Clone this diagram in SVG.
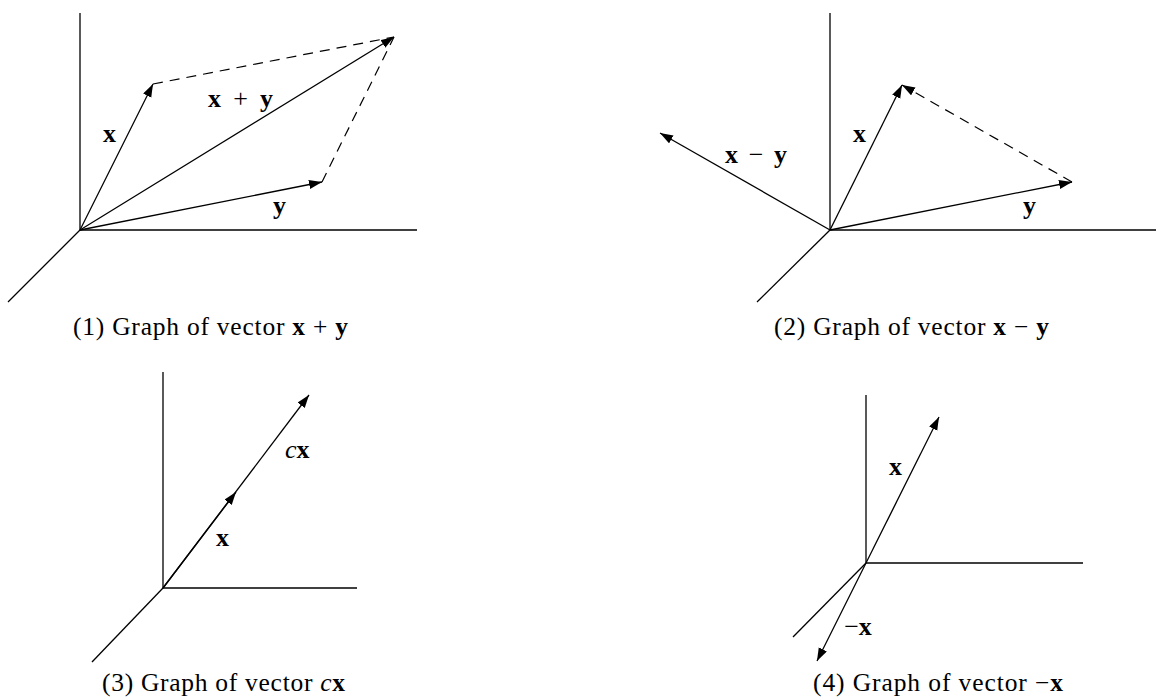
<svg xmlns="http://www.w3.org/2000/svg" width="1156" height="698" viewBox="0 0 1156 698">
<style>
.ax{stroke:#000;stroke-width:1.3;fill:none}
.v{stroke:#000;stroke-width:1.3;fill:none;marker-end:url(#ah)}
.d{stroke:#000;stroke-width:1.2;fill:none;stroke-dasharray:10 7}
.lab{font-family:"Liberation Serif","DejaVu Serif",serif;font-size:26px;fill:#000}
.b{font-weight:bold}
.i{font-style:italic}
.cap{font-family:"Liberation Serif","DejaVu Serif",serif;font-size:25.5px;fill:#000}
</style>
<defs>
<marker id="ah" markerUnits="userSpaceOnUse" markerWidth="14" markerHeight="10" refX="13" refY="4.5" orient="auto">
<path d="M0,0 L13,4.5 L0,9 z" fill="#000"/>
</marker>
</defs>
<rect width="1156" height="698" fill="#fff"/>

<g id="panel1">
<g id="axes1">
<line class="ax" x1="80" y1="13" x2="80" y2="230"/>
<line class="ax" x1="80" y1="230" x2="417" y2="230"/>
<line class="ax" x1="80" y1="230" x2="8" y2="302"/>
</g>
<g id="connectors1">
<line class="v" x1="80" y1="230" x2="153" y2="84"/>
<line class="v" x1="80" y1="230" x2="322" y2="182"/>
<line class="v" x1="80" y1="230" x2="394" y2="37"/>
<line class="d" x1="153" y1="84" x2="394" y2="37"/>
<line class="d" x1="322" y1="182" x2="394" y2="37"/>
</g>
<text class="lab b" x="109.5" y="142" text-anchor="middle">x</text>
<text class="lab" x="208" y="107" textLength="65" lengthAdjust="spacing"><tspan class="b">x</tspan> + <tspan class="b">y</tspan></text>
<text class="lab b" x="279.5" y="214" text-anchor="middle">y</text>
<text class="cap" x="73" y="335" textLength="275" lengthAdjust="spacing">(1) Graph of vector <tspan class="b">x</tspan> + <tspan class="b">y</tspan></text>
</g>

<g id="panel2">
<g id="axes2">
<line class="ax" x1="830" y1="13" x2="830" y2="230"/>
<line class="ax" x1="830" y1="230" x2="1156" y2="230"/>
<line class="ax" x1="830" y1="230" x2="757" y2="302"/>
</g>
<g id="connectors2">
<line class="v" x1="830" y1="230" x2="902" y2="85"/>
<line class="v" x1="830" y1="230" x2="1072" y2="182"/>
<line class="v" x1="830" y1="230" x2="660" y2="133"/>
<line class="d" x1="1072" y1="182" x2="902" y2="85" style="marker-end:url(#ah)"/>
</g>
<text class="lab" x="725" y="163" textLength="62" lengthAdjust="spacing"><tspan class="b">x</tspan> − <tspan class="b">y</tspan></text>
<text class="lab b" x="859.5" y="142" text-anchor="middle">x</text>
<text class="lab b" x="1029.5" y="214" text-anchor="middle">y</text>
<text class="cap" x="774" y="335" textLength="275" lengthAdjust="spacing">(2) Graph of vector <tspan class="b">x</tspan> − <tspan class="b">y</tspan></text>
</g>

<g id="panel3">
<g id="axes3">
<line class="ax" x1="163" y1="372" x2="163" y2="588"/>
<line class="ax" x1="163" y1="588" x2="357" y2="588"/>
<line class="ax" x1="163" y1="588" x2="92" y2="662"/>
</g>
<g id="connectors3">
<line class="v" x1="163" y1="588" x2="309" y2="395"/>
<line class="v" x1="163" y1="588" x2="236" y2="492"/>
</g>
<text class="lab" x="285" y="458"><tspan class="i">c</tspan><tspan class="b">x</tspan></text>
<text class="lab b" x="222.5" y="546" text-anchor="middle">x</text>
<text class="cap" x="102" y="691" textLength="243" lengthAdjust="spacing">(3) Graph of vector <tspan class="i">c</tspan><tspan class="b">x</tspan></text>
</g>

<g id="panel4">
<g id="axes4">
<line class="ax" x1="866" y1="395" x2="866" y2="563"/>
<line class="ax" x1="866" y1="563" x2="1083" y2="563"/>
<line class="ax" x1="866" y1="563" x2="793" y2="637"/>
</g>
<g id="connectors4">
<line class="v" x1="866" y1="563" x2="939" y2="417"/>
<line class="v" x1="866" y1="563" x2="817" y2="661"/>
</g>
<text class="lab b" x="895.5" y="475" text-anchor="middle">x</text>
<text class="lab" x="858" y="635" text-anchor="middle">−<tspan class="b">x</tspan></text>
<text class="cap" x="813" y="691" textLength="250" lengthAdjust="spacing">(4) Graph of vector −<tspan class="b">x</tspan></text>
</g>
</svg>
